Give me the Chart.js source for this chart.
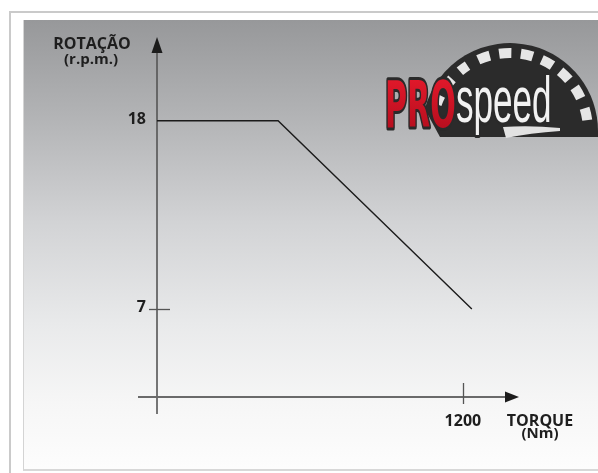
<!DOCTYPE html>
<html>
<head>
<meta charset="utf-8">
<script src="https://cdn.jsdelivr.net/npm/chart.js@4.4.1/dist/chart.umd.min.js"></script>
<style>
  body { margin:0; width:598px; height:473px; overflow:hidden; background:#fff; position:relative; }
  .frame { position:absolute; left:9px; top:11px; width:700px; height:600px;
           border-left:2px solid #cacaca; border-top:2px solid #cacaca; }
  .panel { position:absolute; left:23px; top:20px; width:700px; height:449px;
           background:linear-gradient(to bottom, #97989a 0%, #b3b4b6 22%, #d2d3d5 45%, #e9eaeb 68%, #f6f6f6 85%, #fdfdfd 100%);
           border-left:1px solid #d4d4d4; border-bottom:2px solid #d8d8d8; }
  #chartBox { position:absolute; left:0; top:0; width:598px; height:473px; }
</style>
</head>
<body>
<div class="frame"></div>
<div class="panel"></div>
<div id="chartBox"><canvas id="torqueChart" width="598" height="473"></canvas></div>
<script>
// values
const torque = [0, 475, 1235];      // Nm
const rotation = [18, 18, 7];       // r.p.m.
const yTicks = [7, 18];
const yTickMarks = [7];             // 18 has no visible mark, the line sits on it
const xTicks = [1200];

const FONT = '"Open Sans", "DejaVu Sans", sans-serif';
const INK = '#1e1e1e';

// PROspeed logo, top right corner (decoration only)
function drawLogo(c) {
  const cx = 510, cy = 131, r = 88;
  c.save();
  // dark gauge half disc
  c.beginPath();
  c.arc(cx, cy, r, Math.PI * 1.08, Math.PI * 2);
  c.lineTo(cx + r, cy + 6);
  c.lineTo(cx - 70, cy + 6);
  c.closePath();
  c.fillStyle = '#2b2b2b';
  c.fill();
  // white dashes around the rim
  c.strokeStyle = '#e6e6e6';
  c.lineWidth = 10;
  const dashes = [200, 215, 230, 246, 262, 278, 294, 310, 326, 343];
  dashes.forEach((a, i) => {
    const len = i < 3 ? 7 : 9;
    c.beginPath();
    c.arc(cx, cy, r - 10, a * Math.PI / 180, (a + len) * Math.PI / 180);
    c.stroke();
  });
  // needle
  c.beginPath();
  c.moveTo(503, 127);
  c.quadraticCurveTo(530, 125, 560, 128);
  c.lineTo(560, 131);
  c.quadraticCurveTo(530, 133, 506, 138);
  c.closePath();
  c.fillStyle = '#e2e2e2';
  c.fill();

  // PRO
  c.save();
  c.translate(385, 127);
  c.scale(0.47, 1);
  c.font = 'bold 64px "DejaVu Sans", sans-serif';
  c.textBaseline = 'alphabetic';
  c.lineJoin = 'round';
  c.lineWidth = 6;
  c.strokeStyle = '#2a2a2a';
  c.strokeText('PRO', 0, 0);
  const g = c.createLinearGradient(0, -47, 0, 0);
  g.addColorStop(0, '#e0182a');
  g.addColorStop(1, '#b80f1f');
  c.fillStyle = g;
  c.fillText('PRO', 0, 0);
  c.restore();

  // speed
  c.save();
  c.translate(456, 122);
  c.scale(0.54, 1);
  c.font = '65px "Liberation Sans", Arial, sans-serif';
  c.textBaseline = 'alphabetic';
  c.lineJoin = 'round';
  c.lineWidth = 6;
  c.strokeStyle = '#2a2a2a';
  c.strokeText('speed', 0, 0);
  c.fillStyle = '#f2f2f2';
  c.fillText('speed', 0, 0);
  c.restore();
  c.restore();
}

const axesPlugin = {
  id: 'arrowAxes',
  beforeDatasetsDraw(chart) {
    const c = chart.ctx;
    const xs = chart.scales.x, ys = chart.scales.y;
    const area = chart.chartArea;
    const x0 = xs.getPixelForValue(0);
    const yb = area.bottom, yt = area.top, xr = area.right;

    drawLogo(c);

    c.save();
    c.lineWidth = 1.6;
    c.strokeStyle = '#555';
    // y axis
    c.beginPath();
    c.moveTo(x0, yb + 17);
    c.lineTo(x0, yt + 10);
    c.stroke();
    // x axis
    c.strokeStyle = '#6a6a6a';
    c.lineWidth = 2;
    c.beginPath();
    c.moveTo(x0 - 19, yb);
    c.lineTo(xr - 8, yb);
    c.stroke();

    // arrow heads
    c.fillStyle = '#1c1c1c';
    c.beginPath();
    c.moveTo(x0, yt);
    c.lineTo(x0 - 5.5, yt + 16);
    c.lineTo(x0 + 5.5, yt + 16);
    c.closePath();
    c.fill();
    c.beginPath();
    c.moveTo(xr, yb);
    c.lineTo(xr - 14, yb - 5.5);
    c.lineTo(xr - 14, yb + 5.5);
    c.closePath();
    c.fill();

    // tick marks
    c.strokeStyle = '#555';
    c.lineWidth = 1.3;
    yTickMarks.forEach(v => {
      const py = Math.round(ys.getPixelForValue(v)) + 0.5;
      c.beginPath();
      c.moveTo(x0 - 8, py);
      c.lineTo(x0 + 13, py);
      c.stroke();
    });
    xTicks.forEach(v => {
      const px = Math.round(xs.getPixelForValue(v)) + 0.5;
      c.beginPath();
      c.moveTo(px, yb - 14);
      c.lineTo(px, yb + 7);
      c.stroke();
    });

    // tick labels
    c.fillStyle = INK;
    c.font = 'bold 16px ' + FONT;
    c.textAlign = 'right';
    c.textBaseline = 'middle';
    yTicks.forEach(v => {
      c.fillText(String(v), x0 - 11, ys.getPixelForValue(v) - 1);
    });
    c.textAlign = 'center';
    xTicks.forEach(v => {
      c.fillText(String(v), xs.getPixelForValue(v), yb + 24);
    });

    // axis titles
    c.font = 'bold 16px ' + FONT;
    c.fillText('ROTAÇÃO', x0 - 65, yt + 7);
    c.font = 'bold 15px ' + FONT;
    c.fillText('(r.p.m.)', x0 - 66, yt + 23);
    c.font = 'bold 16px ' + FONT;
    c.fillText('TORQUE', xr + 21, yb + 24);
    c.font = 'bold 15px ' + FONT;
    c.fillText('(Nm)', xr + 21, yb + 37);
    c.restore();
  }
};

const ctx = document.getElementById('torqueChart').getContext('2d');

const torqueChart = new Chart(ctx, {
  type: 'line',
  data: {
    datasets: [{
      label: 'Rotação',
      data: torque.map((t, i) => ({ x: t, y: rotation[i] })),
      borderColor: '#1b1b1b',
      borderWidth: 1.4,
      pointRadius: 0,
      tension: 0,
      fill: false,
      clip: false
    }]
  },
  options: {
    responsive: false,
    devicePixelRatio: 1,
    animation: false,
    layout: {
      padding: { left: 157, top: 37, right: 79, bottom: 76 }
    },
    plugins: {
      legend: { display: false },
      tooltip: { enabled: false }
    },
    scales: {
      x: { type: 'linear', display: false, min: 0, max: 1420 },
      y: { type: 'linear', display: false, min: 1.85, max: 22.9 }
    }
  },
  plugins: [axesPlugin]
});
</script>
</body>
</html>
